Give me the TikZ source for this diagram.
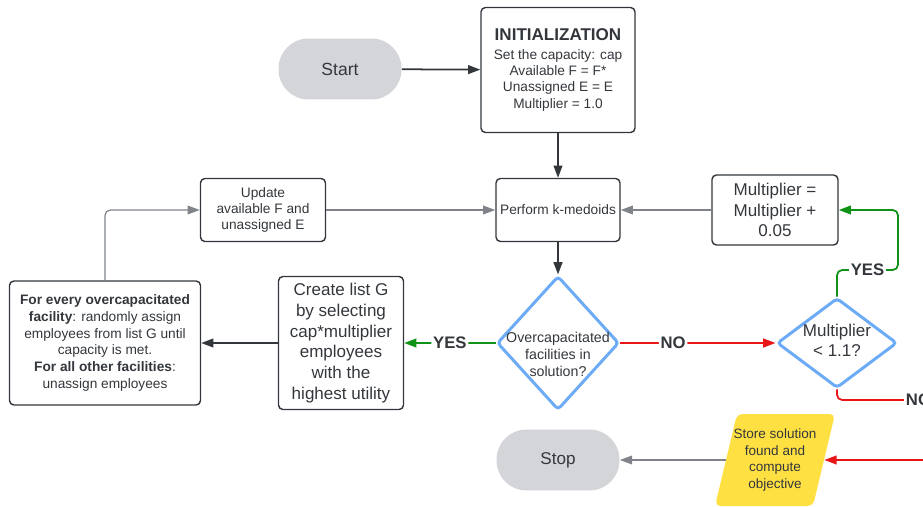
\documentclass[tikz,border=0pt]{standalone}
\usepackage{fontspec}
\setmainfont{Liberation Sans}
\usetikzlibrary{arrows.meta,shapes.geometric}

\definecolor{txt}{RGB}{51,55,60}
\definecolor{pillgray}{RGB}{211,213,216}
\definecolor{dblue}{RGB}{108,171,246}
\definecolor{lgreen}{RGB}{16,146,22}
\definecolor{lred}{RGB}{232,22,22}
\definecolor{lyellow}{RGB}{255,224,66}
\definecolor{lgray}{RGB}{128,132,138}
\definecolor{dgray}{RGB}{51,55,60}

\newcommand{\fs}[2]{\fontsize{#1}{#2}\selectfont}
% text that does not make the diamond grow
\newcommand{\nosize}[2][-0.25em]{\makebox[0pt]{\raisebox{#1}[0pt][0pt]{\begin{tabular}{@{}c@{}}#2\end{tabular}}}}

\begin{document}
\begin{tikzpicture}[x=0.02cm, y=-0.02cm,
    every node/.style={text=txt, align=center},
    pill/.style={fill=pillgray, rounded corners=0.6cm, minimum width=2.46cm, minimum height=1.22cm, font=\fs{10}{12}},
    box/.style={draw=dgray, line width=0.8pt, rounded corners=2.5pt, inner sep=1pt},
    decision/.style={diamond, draw=dblue, line width=1.7pt, inner sep=0pt, rounded corners=2pt},
    yesno/.style={font=\bfseries\fs{9.5}{11}, fill=white, inner sep=1pt},
    dark/.style={draw=dgray, line width=1pt, rounded corners=3pt, -{Triangle[length=7pt,width=5pt]}},
    light/.style={draw=lgray, line width=0.7pt, rounded corners=3pt, -{Triangle[length=7pt,width=5pt]}},
    yesline/.style={draw=lgreen, line width=1pt, rounded corners=3pt, -{Triangle[length=7pt,width=5pt]}},
    noline/.style={draw=lred, line width=1pt, rounded corners=3pt, -{Triangle[length=7pt,width=5pt]}}]

  \useasboundingbox (0,0) rectangle (923,507);
  \clip (0,0) rectangle (923,507);

  % start and initialization
  \node[pill] (start) at (340,69) {Start};
  \node[box, minimum width=3.08cm, minimum height=2.5cm, font=\fs{7.8}{9.3}] (init) at (558,70)
    {{\bfseries\fs{9.7}{12}INITIALIZATION}\\[1pt]
     Set the capacity: cap\\Available F = F*\\Unassigned E = E\\Multiplier = 1.0};

  % middle row
  \node[box, minimum width=2.48cm, minimum height=1.26cm, font=\fs{7.8}{9.3}] (perform) at (558,210) {Perform k-medoids};
  \node[box, minimum width=2.5cm, minimum height=1.26cm, font=\fs{7.8}{9}] (update) at (263,210)
    {Update\\available F and\\unassigned E};
  \node[box, minimum width=2.52cm, minimum height=1.4cm, font=\fs{9.7}{11.7}] (mbox) at (775,210)
    {Multiplier =\\Multiplier +\\0.05};

  % decisions
  \node[decision, minimum width=2.44cm, minimum height=2.68cm, font=\fs{8.1}{9.8}] (overcap) at (558,343)
    {\nosize[-9.4pt]{Overcapacitated\\facilities in\\solution?}};
  \node[decision, minimum width=2.4cm, minimum height=1.8cm, font=\fs{9.7}{11.4}] (mult) at (837,343)
    {\nosize{Multiplier\\< 1.1?}};

  % left row
  \node[box, minimum width=2.5cm, minimum height=2.66cm, font=\fs{9.7}{11.8}] (create) at (341,343)
    {Create list G\\by selecting\\cap*multiplier\\employees\\with the\\highest utility};
  \node[box, minimum width=3.82cm, minimum height=2.48cm, font=\fs{7.8}{9.5}] (forall) at (105,343)
    {{\bfseries For every overcapacitated}\\{\bfseries facility}: randomly assign\\employees from list G until\\capacity is met.\\{\bfseries For all other facilities}:\\unassign employees};

  % bottom row
  \node[pill, font=\fs{9.7}{12}] (stop) at (558,460) {Stop};
  \coordinate (S) at (775,460);
  \fill[lyellow, rounded corners=3pt, shift={(S)}] (-60,46) -- (-38,-46) -- (60,-46) -- (38,46) -- cycle;
  \node[minimum width=1.96cm, minimum height=1.84cm, inner sep=0pt, font=\fs{7.7}{9.5}] (store) at (S)
    {Store solution\\found and\\compute\\objective};

  % connectors
  \draw[dark] (start) -- (init);
  \draw[dark] (init) -- (perform);
  \draw[dark] (perform) -- (overcap);
  \draw[light] (update) -- (perform);
  \draw[light] (mbox) -- (perform);
  \draw[yesline] (overcap) -- node[yesno] {YES} (create);
  \draw[noline] (overcap) -- node[yesno, pos=0.34] {NO} (mult);
  \draw[dark] (create) -- (forall);
  \draw[light] (forall.north) |- (update);

  % multiplier loop
  \coordinate (yesturn) at (898,270);
  \draw[yesline] (mult.north) |- node[yesno, pos=0.75] {YES} (yesturn) |- (mbox);
  \coordinate (noturn) at (1000,400);
  \draw[noline] (mult.south) |- node[yesno, pos=0.75] {NO} (noturn) |- (store);

  \draw[light] (store) -- (stop);

\end{tikzpicture}
\end{document}
